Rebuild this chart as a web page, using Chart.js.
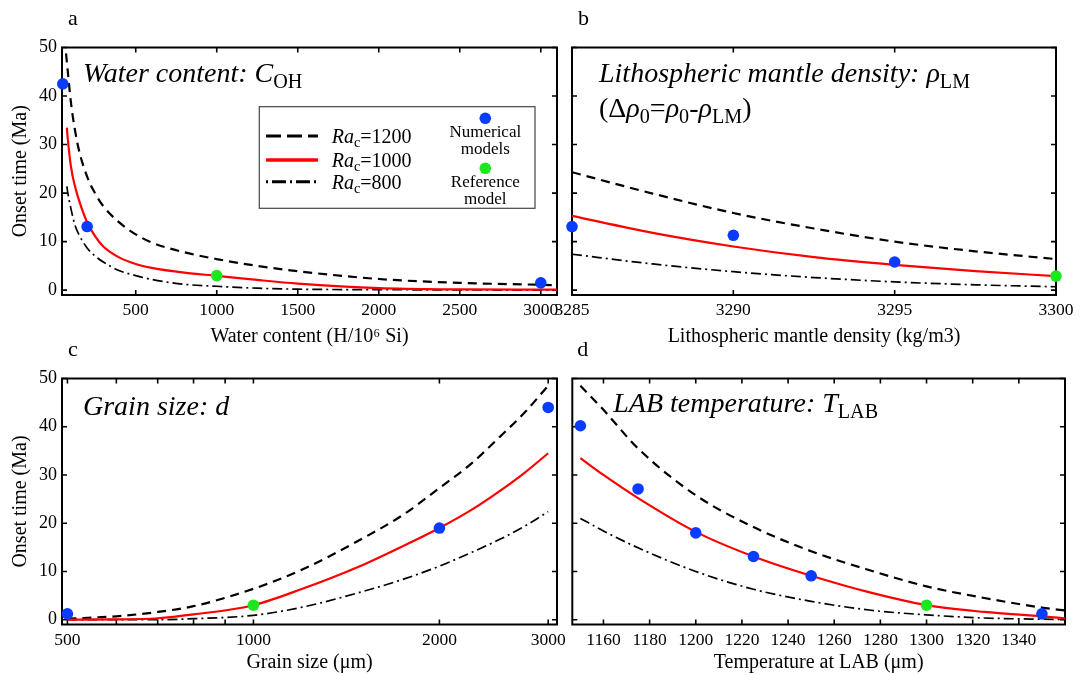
<!DOCTYPE html>
<html>
<head>
<meta charset="utf-8">
<script src="https://cdn.jsdelivr.net/npm/chart.js@4.4.0/dist/chart.umd.min.js"></script>
<style>
  body { margin: 0; background: #fff; width: 1081px; height: 675px; position: relative; overflow: hidden; }
  canvas { position: absolute; }
</style>
</head>
<body>
<canvas id="pa" width="570" height="350" style="left:0;top:0"></canvas>
<canvas id="pb" width="541" height="350" style="left:540px;top:0"></canvas>
<canvas id="pc" width="570" height="345" style="left:0;top:330px"></canvas>
<canvas id="pd" width="541" height="345" style="left:540px;top:330px"></canvas>
<script>
const SERIF = '"Liberation Serif", "Times New Roman", Times, serif';
const BLUE = '#0a3cff', GREEN = '#1ee61e', RED = '#ff0000';

// shared
const yTicks = [0, 10, 20, 30, 40, 50];
const racValues = [1200, 1000, 800];
const dotLabels = [['Numerical', 'models'], ['Reference', 'model']];

// a: water content
const aX = [70, 75, 80, 100, 125, 150, 200, 250, 300, 400, 500, 600, 800, 1000, 1250, 1500, 2000, 2500, 3000, 3100];
const aRa1200 = [48.8, 47.0, 45.3, 38.7, 33.0, 28.8, 23.4, 19.9, 17.3, 13.9, 11.5, 9.8, 7.8, 6.4, 5.0, 3.9, 2.3, 1.5, 1.1, 1.0];
const aRa1000 = [null, 33.5, 31.4, 25.5, 21.4, 18.5, 14.0, 11.1, 9.0, 6.7, 5.4, 4.6, 3.6, 2.95, 2.1, 1.35, 0.4, 0.15, 0.1, 0.1];
const aRa800 = [null, 21.4, 20.2, 16.8, 13.4, 11.4, 8.7, 7.0, 5.8, 4.0, 3.0, 2.2, 1.2, 0.8, 0.4, 0.2, 0.1, 0.05, 0, 0];
const aNumX = [50, 200, 3000];
const aNumY = [42.5, 13.1, 1.5];
const aRefX = [1000];
const aRefY = [3.0];
const aTicks = [500, 1000, 1500, 2000, 2500, 3000];

// b: lithospheric mantle density
const bX = [3285, 3287.5, 3290, 3292.5, 3295, 3297.5, 3300];
const bRa1200 = [24.3, 19.9, 15.9, 12.7, 10.0, 8.0, 6.4];
const bRa1000 = [15.3, 11.8, 9.0, 6.8, 5.2, 3.9, 2.9];
const bRa800 = [7.4, 5.4, 3.8, 2.6, 1.7, 1.1, 0.7];
const bNumX = [3285, 3290, 3295];
const bNumY = [13.1, 11.3, 5.8];
const bRefX = [3300];
const bRefY = [2.9];
const bTicks = [3285, 3290, 3295, 3300];

// c: grain size (log axis)
const cX = [500, 600, 700, 800, 1000, 1200, 1500, 1750, 2000, 2250, 2500, 2750, 3000];
const cRa1200 = [0.2, 0.7, 1.6, 2.8, 6.4, 10.4, 16.8, 21.8, 27.3, 32.3, 37.8, 43.0, 48.5];
const cRa1000 = [0, 0.05, 0.3, 1.1, 3.0, 6.4, 11.3, 15.3, 19.0, 22.7, 26.6, 30.5, 34.5];
const cRa800 = [0, 0, 0, 0.2, 0.9, 2.6, 5.8, 8.4, 11.1, 13.9, 16.6, 19.4, 22.4];
const cNumX = [500, 2000, 3000];
const cNumY = [1.2, 19.0, 44.0];
const cRefX = [1000];
const cRefY = [3.0];
const cTicks = [500, 600, 700, 800, 900, 1000, 2000, 3000];
const cTickLabels = [500, 1000, 2000, 3000];

// d: LAB temperature
const dX = [1150, 1160, 1175, 1200, 1225, 1250, 1275, 1300, 1325, 1350, 1360];
const dRa1200 = [48.5, 43.5, 35.5, 25.8, 19.2, 14.2, 10.3, 6.9, 4.5, 2.5, 1.9];
const dRa1000 = [33.5, 30.0, 25.2, 18.2, 13.1, 9.1, 5.7, 3.0, 1.6, 0.7, 0.3];
const dRa800 = [21.0, 18.4, 14.9, 10.0, 6.3, 3.8, 2.0, 1.0, 0.35, 0.1, 0.05];
const dNumX = [1150, 1175, 1200, 1225, 1250, 1350];
const dNumY = [40.2, 27.1, 18.0, 13.1, 9.1, 1.2];
const dRefX = [1300];
const dRefY = [3.0];
const dTicks = [1160, 1180, 1200, 1220, 1240, 1260, 1280, 1300, 1320, 1340];

function xy(xs, ys) {
  return xs.map((x, i) => ({x: x, y: ys[i]})).filter(p => p.y !== null);
}

// draw text made of italic / upright / subscript pieces
function rich(ctx, x, y, parts, size) {
  ctx.textAlign = 'left';
  ctx.textBaseline = 'alphabetic';
  parts.forEach(p => {
    const fs = p.sub ? size * 0.72 : size;
    ctx.font = (p.i ? 'italic ' : '') + fs + 'px ' + SERIF;
    ctx.fillText(p.t, x, y + (p.sub ? size * 0.22 : 0));
    x += ctx.measureText(p.t).width;
  });
}

function drawLegend(ctx, a) {
  const L = a.left, T = a.top;
  ctx.fillStyle = '#fff';
  ctx.fillRect(L + 197.3, T + 59.2, 275.7, 101.6);
  ctx.strokeStyle = '#444';
  ctx.lineWidth = 1.2;
  ctx.strokeRect(L + 197.3, T + 59.2, 275.7, 101.6);
  const styles = [
    {c: '#000', w: 3, dash: [15, 6]},
    {c: RED, w: 3.4, dash: []},
    {c: '#000', w: 3, dash: [2, 4, 14, 4]}
  ];
  const rows = [88.5, 112.5, 134.2];
  racValues.forEach((v, i) => {
    ctx.beginPath();
    ctx.strokeStyle = styles[i].c;
    ctx.lineWidth = styles[i].w;
    ctx.setLineDash(styles[i].dash);
    ctx.moveTo(L + 204, T + rows[i]);
    ctx.lineTo(L + 256, T + rows[i]);
    ctx.stroke();
    ctx.fillStyle = '#000';
    rich(ctx, L + 269.7, T + rows[i] + 7, [{t: 'Ra', i: 1}, {t: 'c', sub: 1}, {t: '=' + v}], 20);
  });
  ctx.setLineDash([]);
  const dots = [[BLUE, 70.8, 89.5], [GREEN, 120.8, 139.5]];
  dots.forEach((d, i) => {
    ctx.fillStyle = d[0];
    ctx.beginPath();
    ctx.arc(L + 423.3, T + d[1], 5.8, 0, Math.PI * 2);
    ctx.fill();
    ctx.fillStyle = '#000';
    ctx.font = '17px ' + SERIF;
    ctx.textAlign = 'center';
    ctx.fillText(dotLabels[i][0], L + 423.3, T + d[2]);
    ctx.fillText(dotLabels[i][1], L + 423.3, T + d[2] + 17);
  });
}

// box with inward ticks, panel letter and title
function decor(p) {
  return {
    id: 'decor',
    beforeDatasetsDraw(chart) {
      const {ctx, chartArea: a, scales} = chart;
      ctx.save();
      ctx.strokeStyle = '#000';
      ctx.lineWidth = 1.6;
      ctx.beginPath();
      scales.x.ticks.forEach(t => {
        const px = scales.x.getPixelForValue(t.value);
        ctx.moveTo(px, a.bottom); ctx.lineTo(px, a.bottom - 5);
        ctx.moveTo(px, a.top); ctx.lineTo(px, a.top + 5);
      });
      scales.y.ticks.forEach(t => {
        const py = scales.y.getPixelForValue(t.value);
        ctx.moveTo(a.left, py); ctx.lineTo(a.left + 5, py);
        ctx.moveTo(a.right, py); ctx.lineTo(a.right - 5, py);
      });
      ctx.stroke();
      ctx.lineWidth = 2;
      ctx.strokeRect(a.left, a.top, a.right - a.left, a.bottom - a.top);
      ctx.restore();
    },
    afterDraw(chart) {
      const {ctx, chartArea: a} = chart;
      ctx.save();
      ctx.fillStyle = '#000';
      ctx.font = '22px ' + SERIF;
      ctx.textAlign = 'left';
      ctx.fillText(p.letter, a.left + p.letterAt[0], a.top + p.letterAt[1]);
      p.title.forEach((line, i) => rich(ctx, a.left + p.titleAt[0], a.top + p.titleAt[1] + i * 35, line, 28));
      if (p.legend) drawLegend(ctx, a);
      ctx.restore();
    }
  };
}

function makeChart(id, p) {
  const common = {pointRadius: 0, fill: false, cubicInterpolationMode: 'monotone'};
  const datasets = [
    {data: xy(p.numX, p.numY), showLine: false, pointRadius: 5.8, pointBackgroundColor: BLUE, pointBorderWidth: 0, clip: false},
    {data: xy(p.refX, p.refY), showLine: false, pointRadius: 5.8, pointBackgroundColor: GREEN, pointBorderWidth: 0, clip: false},
    Object.assign({data: xy(p.xs, p.s1000), borderColor: RED, borderWidth: 2.2}, common),
    Object.assign({data: xy(p.xs, p.s1200), borderColor: '#000', borderWidth: 2.2, borderDash: [9, 6]}, common),
    Object.assign({data: xy(p.xs, p.s800), borderColor: '#000', borderWidth: 1.7, borderDash: [10, 4, 2, 4]}, common)
  ];
  return new Chart(document.getElementById(id), {
    type: 'line',
    data: {datasets: datasets},
    options: {
      responsive: false,
      animation: false,
      events: [],
      layout: {padding: p.pad},
      plugins: {legend: {display: false}, tooltip: {enabled: false}},
      scales: {
        x: {
          type: p.xType, min: p.xMin, max: p.xMax,
          afterBuildTicks: s => { s.ticks = p.xTicks.map(v => ({value: v})); },
          afterFit: s => { s.height = p.xHeight; s.paddingLeft = 0; s.paddingRight = 0; },
          grid: {display: false, drawTicks: false},
          border: {display: false},
          ticks: {
            autoSkip: false, maxRotation: 0, padding: 5, color: '#000',
            font: {family: SERIF, size: 17.5},
            callback: v => p.xLabels.includes(v) ? String(v) : ''
          },
          title: {display: true, text: p.xTitle, color: '#000', font: {family: SERIF, size: 20}, padding: {top: 0, bottom: p.xTitlePad}}
        },
        y: {
          type: 'linear', min: -1, max: 50,
          afterBuildTicks: s => { s.ticks = yTicks.map(v => ({value: v})); },
          afterFit: s => { s.width = p.yWidth; s.paddingTop = 0; s.paddingBottom = 0; },
          grid: {display: false, drawTicks: false},
          border: {display: false},
          ticks: {display: p.yLabels, padding: 5, color: '#000', font: {family: SERIF, size: 18}, callback: v => String(v)},
          title: {display: p.yLabels, text: 'Onset time (Ma)', color: '#000', font: {family: SERIF, size: 20}, padding: {top: 9, bottom: 0}}
        }
      }
    },
    plugins: [decor(p)]
  });
}

makeChart('pa', {
  xs: aX, s1200: aRa1200, s1000: aRa1000, s800: aRa800,
  numX: aNumX, numY: aNumY, refX: aRefX, refY: aRefY,
  xType: 'linear', xMin: 45, xMax: 3100, xTicks: aTicks, xLabels: aTicks,
  xTitle: 'Water content (H/10\u2076 Si)', xTitlePad: 1,
  yLabels: true, yWidth: 62, xHeight: 55, pad: {left: 0, top: 47.5, right: 13, bottom: 0},
  letter: 'a', letterAt: [6, -23], titleAt: [21, 34.5], legend: true,
  title: [[{t: 'Water content: ', i: 1}, {t: 'C', i: 1}, {t: 'OH', sub: 1}]]
});

makeChart('pb', {
  xs: bX, s1200: bRa1200, s1000: bRa1000, s800: bRa800,
  numX: bNumX, numY: bNumY, refX: bRefX, refY: bRefY,
  xType: 'linear', xMin: 3285, xMax: 3300, xTicks: bTicks, xLabels: bTicks,
  xTitle: 'Lithospheric mantle density (kg/m3)', xTitlePad: 1,
  yLabels: false, yWidth: 32, xHeight: 55, pad: {left: 0, top: 47.5, right: 25, bottom: 0},
  letter: 'b', letterAt: [6, -23], titleAt: [27, 34.5], legend: false,
  title: [
    [{t: 'Lithospheric mantle density: ', i: 1}, {t: '\u03c1', i: 1}, {t: 'LM', sub: 1}],
    [{t: '(\u0394'}, {t: '\u03c1', i: 1}, {t: '0', sub: 1}, {t: '='}, {t: '\u03c1', i: 1}, {t: '0', sub: 1},
     {t: '-'}, {t: '\u03c1', i: 1}, {t: 'LM', sub: 1}, {t: ')'}]
  ]
});

makeChart('pc', {
  xs: cX, s1200: cRa1200, s1000: cRa1000, s800: cRa800,
  numX: cNumX, numY: cNumY, refX: cRefX, refY: cRefY,
  xType: 'logarithmic', xMin: 490, xMax: 3100, xTicks: cTicks, xLabels: cTickLabels,
  xTitle: 'Grain size (\u03bcm)', xTitlePad: 0,
  yLabels: true, yWidth: 62, xHeight: 50.5, pad: {left: 0, top: 48.5, right: 13, bottom: 0},
  letter: 'c', letterAt: [6, -23], titleAt: [21, 36], legend: false,
  title: [[{t: 'Grain size: ', i: 1}, {t: 'd', i: 1}]]
});

makeChart('pd', {
  xs: dX, s1200: dRa1200, s1000: dRa1000, s800: dRa800,
  numX: dNumX, numY: dNumY, refX: dRefX, refY: dRefY,
  xType: 'linear', xMin: 1146.5, xMax: 1360, xTicks: dTicks, xLabels: dTicks,
  xTitle: 'Temperature at LAB (\u03bcm)', xTitlePad: 0,
  yLabels: false, yWidth: 32.3, xHeight: 50.5, pad: {left: 0, top: 48.5, right: 16, bottom: 0},
  letter: 'd', letterAt: [5, -23], titleAt: [41, 33.5], legend: false,
  title: [[{t: 'LAB temperature: ', i: 1}, {t: 'T', i: 1}, {t: 'LAB', sub: 1}]]
});
</script>
</body>
</html>
